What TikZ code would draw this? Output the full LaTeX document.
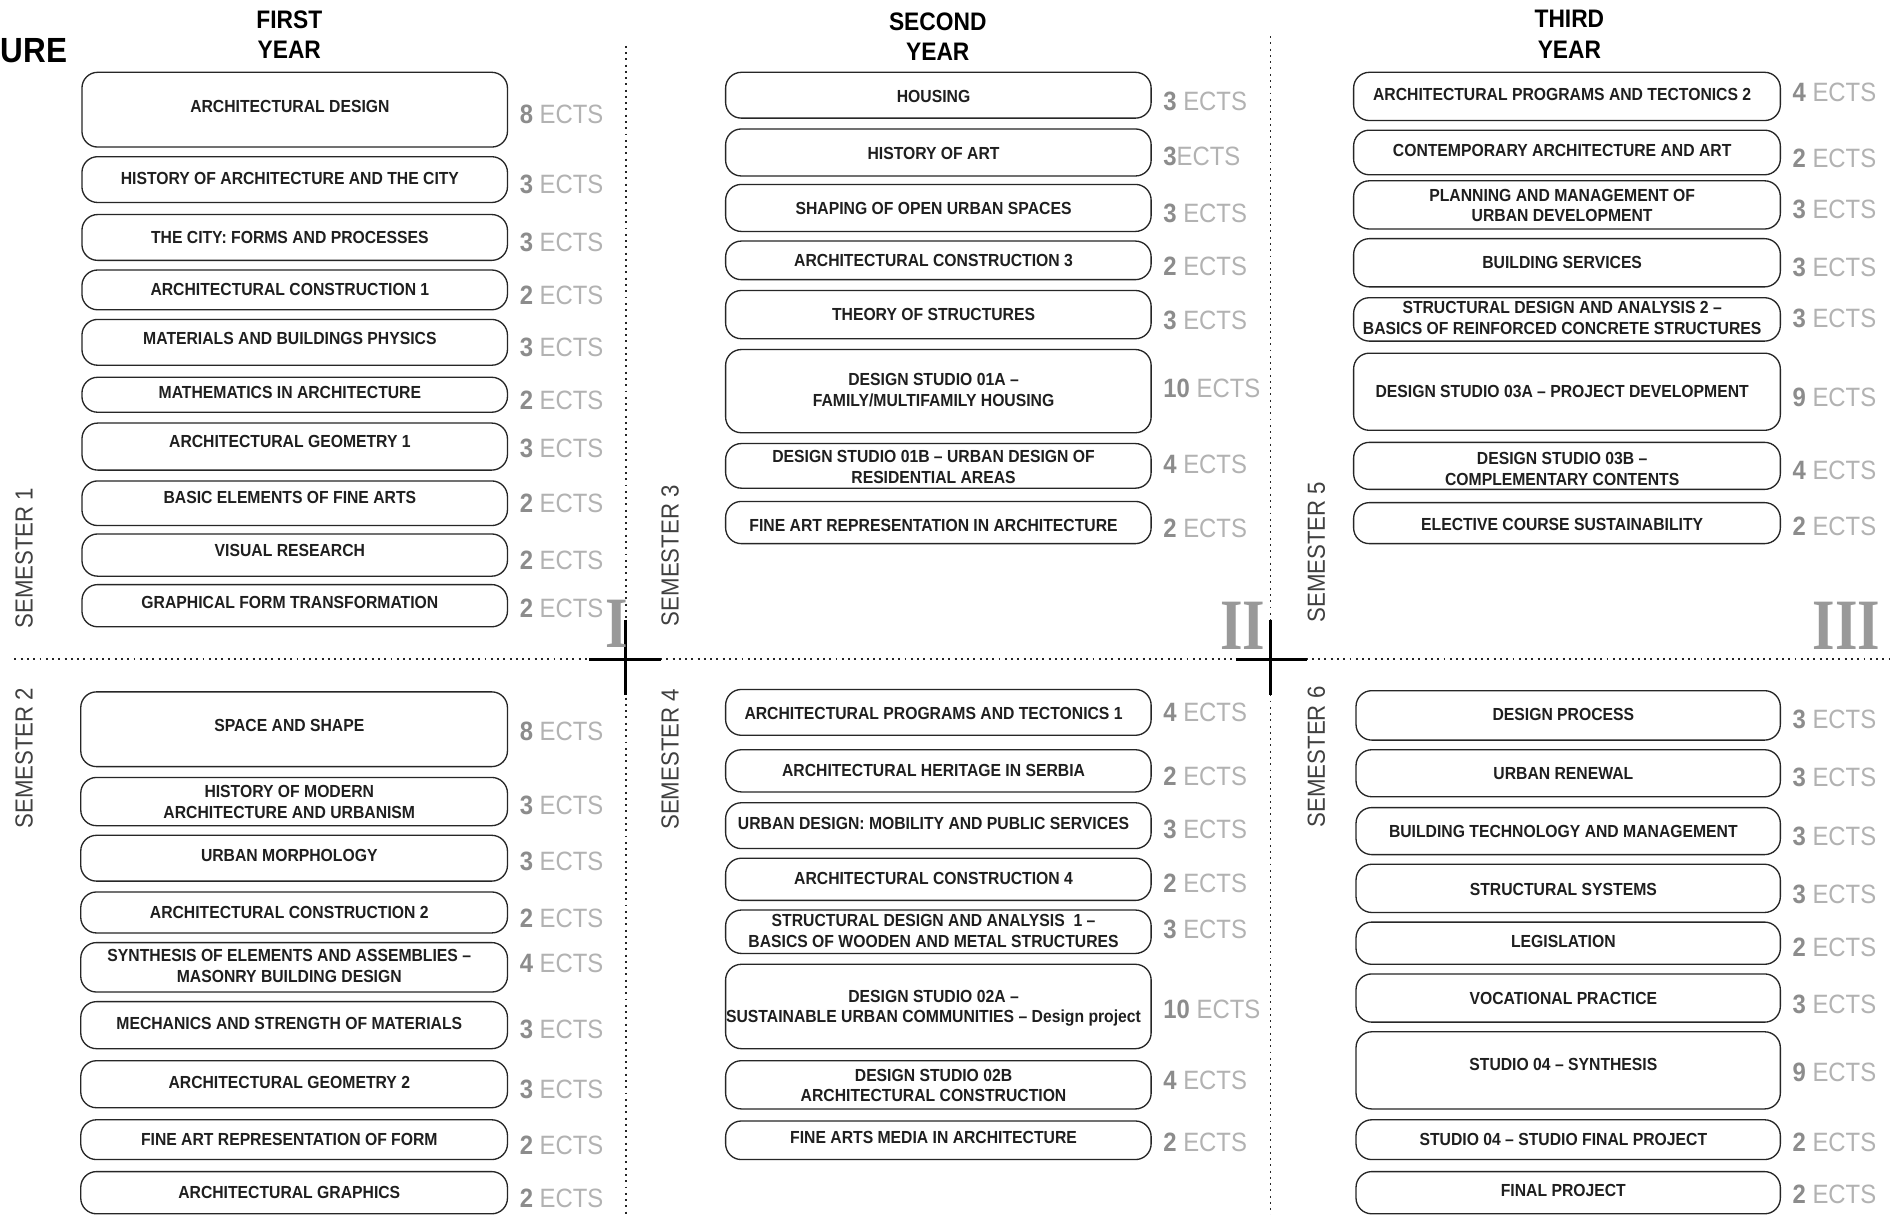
\documentclass[tikz,border=0pt]{standalone}
\usepackage{fontspec}
\newfontfamily\cfont{Liberation Sans}[FakeStretch=0.9]
\newfontfamily\rfont{Liberation Serif}[FakeStretch=0.8]
\newcommand\ectsn[1]{{\color{black!45}\bfseries #1}}
\tikzset{
  course/.style={draw=black!85, line width=1.1pt, rounded corners=13pt, inner sep=0pt},
  ctext/.style={font=\cfont\bfseries\fontsize{14.5}{17}\selectfont, text=black!88, align=center, inner sep=0pt},
  ects/.style={font=\cfont\fontsize{22}{24}\selectfont, text=black!30, anchor=west, inner sep=0pt},
  semlabel/.style={font=\cfont\fontsize{20.5}{22}\selectfont, text=black!75, rotate=90, inner sep=0pt},
  yearhead/.style={font=\cfont\bfseries\fontsize{21}{25}\selectfont, align=center, inner sep=0pt},
  roman/.style={font=\rfont\bfseries\fontsize{60}{60}\selectfont, text=black!40, inner sep=0pt},
  sepline/.style={draw=black!85, line width=1.6pt, dash pattern=on 1.6pt off 3.6pt},
  crossline/.style={draw=black, line width=2.6pt},
}
% name, x1, x2, top, bottom, text y, text, ects, ects y
\newcommand\crs[9]{%
  \node[course, minimum width={(#3-#2)*1pt}, minimum height={(#5-#4)*1pt}] (#1) at ({(#2+#3)/2},{(#4+#5)/2}) {};
  \node[ctext] (#1t) at ({(#2+#3)/2-4},#6) {#7};
  \node[ects] (#1e) at ({#3+10},#9) {#8};
}
\begin{document}
\begin{tikzpicture}[x=1pt,y=-1pt]
\fill[white] (0,0) rectangle (1568,1008);
\useasboundingbox (0,0) rectangle (1568,1008);

% separators
\draw[sepline] (519,38) -- (519,1008);
\draw[sepline] (1054,30) -- (1054,1008);
\draw[sepline] (12,547) -- (1568,547);
\draw[crossline] (489,547) -- (548,547);
\draw[crossline] (519,514) -- (519,577);
\draw[crossline] (1025,547) -- (1084,547);
\draw[crossline] (1054,514) -- (1054,577);

% roman numerals
\node[roman, anchor=south east] (r1) at (521,537) {I};
\node[roman, anchor=south east] (r2) at (1050,539) {II};
\node[roman, anchor=south east] (r3) at (1560,539) {III};

% headings
\node[yearhead, font=\cfont\bfseries\fontsize{29}{30}\selectfont, anchor=east] (ure) at (56,42) {URE};
\node[yearhead] (y1) at (240,28.5) {FIRST\\YEAR};
\node[yearhead] (y2) at (778,30.5) {SECOND\\YEAR};
\node[yearhead] (y3) at (1302,28.5) {THIRD\\YEAR};

% semester labels
\node[semlabel] (s1) at (20,463) {SEMESTER 1};
\node[semlabel] (s2) at (20,629) {SEMESTER 2};
\node[semlabel] (s3) at (556,461) {SEMESTER 3};
\node[semlabel] (s4) at (556,630) {SEMESTER 4};
\node[semlabel] (s5) at (1092,458) {SEMESTER 5};
\node[semlabel] (s6) at (1092,628) {SEMESTER 6};

% semester 1
\crs{a1}{68}{421}{60}{122}{88}{ARCHITECTURAL DESIGN}{\ectsn{8} ECTS}{95}
\crs{a2}{68}{421}{130}{168}{148}{HISTORY OF ARCHITECTURE AND THE CITY}{\ectsn{3} ECTS}{153}
\crs{a3}{68}{421}{178}{216}{197}{THE CITY: FORMS AND PROCESSES}{\ectsn{3} ECTS}{201}
\crs{a4}{68}{421}{224}{257}{240}{ARCHITECTURAL CONSTRUCTION 1}{\ectsn{2} ECTS}{245}
\crs{a5}{68}{421}{265}{303}{281}{MATERIALS AND BUILDINGS PHYSICS}{\ectsn{3} ECTS}{288}
\crs{a6}{68}{421}{313}{342}{326}{MATHEMATICS IN ARCHITECTURE}{\ectsn{2} ECTS}{332}
\crs{a7}{68}{421}{351}{390}{366}{ARCHITECTURAL GEOMETRY 1}{\ectsn{3} ECTS}{372}
\crs{a8}{68}{421}{399}{436}{413}{BASIC ELEMENTS OF FINE ARTS}{\ectsn{2} ECTS}{418}
\crs{a9}{68}{421}{443}{478}{457}{VISUAL RESEARCH}{\ectsn{2} ECTS}{465}
\crs{a10}{68}{421}{485}{520}{500}{GRAPHICAL FORM TRANSFORMATION}{\ectsn{2} ECTS}{505}

% semester 2
\crs{b1}{67}{421}{574}{636}{602}{SPACE AND SHAPE}{\ectsn{8} ECTS}{607}
\crs{b2}{67}{421}{645}{685}{665.5}{HISTORY OF MODERN\\ARCHITECTURE AND URBANISM}{\ectsn{3} ECTS}{668}
\crs{b3}{67}{421}{693}{731}{710}{URBAN MORPHOLOGY}{\ectsn{3} ECTS}{715}
\crs{b4}{67}{421}{740}{774}{757}{ARCHITECTURAL CONSTRUCTION 2}{\ectsn{2} ECTS}{762}
\crs{b5}{67}{421}{782}{823}{801.5}{SYNTHESIS OF ELEMENTS AND ASSEMBLIES –\\MASONRY BUILDING DESIGN}{\ectsn{4} ECTS}{799}
\crs{b6}{67}{421}{831}{870}{849}{MECHANICS AND STRENGTH OF MATERIALS}{\ectsn{3} ECTS}{854}
\crs{b7}{67}{421}{880}{919}{898}{ARCHITECTURAL GEOMETRY 2}{\ectsn{3} ECTS}{904}
\crs{b8}{67}{421}{929}{962}{945}{FINE ART REPRESENTATION OF FORM}{\ectsn{2} ECTS}{950}
\crs{b9}{67}{421}{972}{1007}{989}{ARCHITECTURAL GRAPHICS}{\ectsn{2} ECTS}{994}

% semester 3
\crs{c1}{602}{955}{60}{98}{80}{HOUSING}{\ectsn{3} ECTS}{84}
\crs{c2}{602}{955}{107}{146}{127}{HISTORY OF ART}{\ectsn{3}ECTS}{130}
\crs{c3}{602}{955}{153}{192}{173}{SHAPING OF OPEN URBAN SPACES}{\ectsn{3} ECTS}{177}
\crs{c4}{602}{955}{200}{232}{216}{ARCHITECTURAL CONSTRUCTION 3}{\ectsn{2} ECTS}{221}
\crs{c5}{602}{955}{241}{281}{261}{THEORY OF STRUCTURES}{\ectsn{3} ECTS}{266}
\crs{c6}{602}{955}{290}{359}{323.5}{DESIGN STUDIO 01A –\\FAMILY/MULTIFAMILY HOUSING}{\ectsn{10} ECTS}{322}
\crs{c7}{602}{955}{368}{405}{387.5}{DESIGN STUDIO 01B – URBAN DESIGN OF\\RESIDENTIAL AREAS}{\ectsn{4} ECTS}{385}
\crs{c8}{602}{955}{416}{451}{436}{FINE ART REPRESENTATION IN ARCHITECTURE}{\ectsn{2} ECTS}{438}

% semester 4
\crs{d1}{602}{955}{572}{610}{592}{ARCHITECTURAL PROGRAMS AND TECTONICS 1}{\ectsn{4} ECTS}{591}
\crs{d2}{602}{955}{622}{657}{639}{ARCHITECTURAL HERITAGE IN SERBIA}{\ectsn{2} ECTS}{644}
\crs{d3}{602}{955}{666}{704}{683}{URBAN DESIGN: MOBILITY AND PUBLIC SERVICES}{\ectsn{3} ECTS}{688}
\crs{d4}{602}{955}{712}{747}{729}{ARCHITECTURAL CONSTRUCTION 4}{\ectsn{2} ECTS}{733}
\crs{d5}{602}{955}{755}{791}{772.5}{STRUCTURAL DESIGN AND ANALYSIS\ \ 1 –\\BASICS OF WOODEN AND METAL STRUCTURES}{\ectsn{3} ECTS}{771}
\crs{d6}{602}{955}{800}{870}{836.5}{DESIGN STUDIO 02A –\\SUSTAINABLE URBAN COMMUNITIES – Design project}{\ectsn{10} ECTS}{837}
\crs{d7}{602}{955}{880}{920}{900.5}{DESIGN STUDIO 02B\\ARCHITECTURAL CONSTRUCTION}{\ectsn{4} ECTS}{896}
\crs{d8}{602}{955}{930}{962}{944}{FINE ARTS MEDIA IN ARCHITECTURE}{\ectsn{2} ECTS}{948}

% semester 5
\crs{e1}{1123}{1477}{60}{100}{78}{ARCHITECTURAL PROGRAMS AND TECTONICS 2}{\ectsn{4} ECTS}{77}
\crs{e2}{1123}{1477}{108}{145}{125}{CONTEMPORARY ARCHITECTURE AND ART}{\ectsn{2} ECTS}{131}
\crs{e3}{1123}{1477}{150}{190}{170.5}{PLANNING AND MANAGEMENT OF\\URBAN DEVELOPMENT}{\ectsn{3} ECTS}{174}
\crs{e4}{1123}{1477}{198}{238}{218}{BUILDING SERVICES}{\ectsn{3} ECTS}{222}
\crs{e5}{1123}{1477}{247}{283}{264}{STRUCTURAL DESIGN AND ANALYSIS 2 –\\BASICS OF REINFORCED CONCRETE STRUCTURES}{\ectsn{3} ECTS}{264}
\crs{e6}{1123}{1477}{293}{357}{325}{DESIGN STUDIO 03A – PROJECT DEVELOPMENT}{\ectsn{9} ECTS}{330}
\crs{e7}{1123}{1477}{367}{406}{389}{DESIGN STUDIO 03B –\\COMPLEMENTARY CONTENTS}{\ectsn{4} ECTS}{390}
\crs{e8}{1123}{1477}{417}{451}{435}{ELECTIVE COURSE SUSTAINABILITY}{\ectsn{2} ECTS}{437}

% semester 6
\crs{f1}{1125}{1477}{573}{614}{593}{DESIGN PROCESS}{\ectsn{3} ECTS}{597}
\crs{f2}{1125}{1477}{622}{661}{642}{URBAN RENEWAL}{\ectsn{3} ECTS}{645}
\crs{f3}{1125}{1477}{670}{709}{690}{BUILDING TECHNOLOGY AND MANAGEMENT}{\ectsn{3} ECTS}{694}
\crs{f4}{1125}{1477}{717}{757}{738}{STRUCTURAL SYSTEMS}{\ectsn{3} ECTS}{742}
\crs{f5}{1125}{1477}{765}{800}{781}{LEGISLATION}{\ectsn{2} ECTS}{786}
\crs{f6}{1125}{1477}{808}{848}{828}{VOCATIONAL PRACTICE}{\ectsn{3} ECTS}{833}
\crs{f7}{1125}{1477}{856}{920}{883}{STUDIO 04 – SYNTHESIS}{\ectsn{9} ECTS}{890}
\crs{f8}{1125}{1477}{929}{962}{945}{STUDIO 04 – STUDIO FINAL PROJECT}{\ectsn{2} ECTS}{948}
\crs{f9}{1125}{1477}{972}{1007}{988}{FINAL PROJECT}{\ectsn{2} ECTS}{991}
\end{tikzpicture}
\end{document}
